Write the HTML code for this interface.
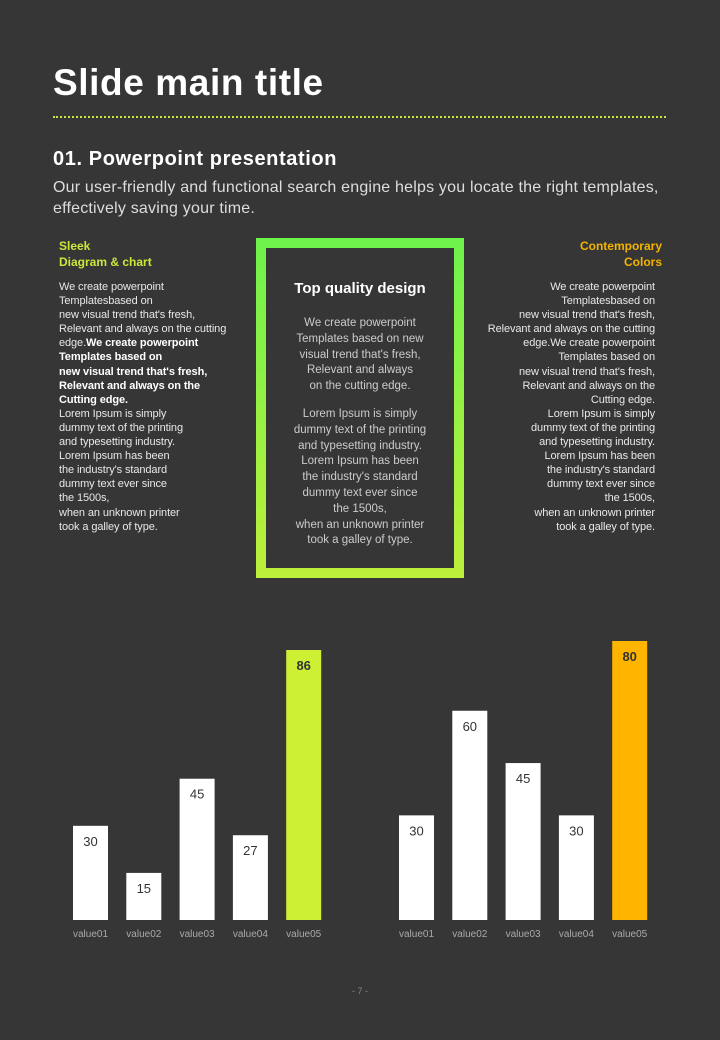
<!DOCTYPE html>
<html><head><meta charset="utf-8"><style>
body{margin:0;width:720px;height:1040px;background:#363636;font-family:"Liberation Sans",sans-serif;position:relative;overflow:hidden;color:#fff}
.a{position:absolute}
.t{font-size:11px;line-height:14.1px;color:#e8e8e8;letter-spacing:-0.1px}
.t b{color:#fff}
</style></head><body>
<div class="a" style="left:53px;top:62px;font-size:37px;font-weight:bold;letter-spacing:0.6px">Slide main title</div>
<div class="a" style="left:53px;top:116px;width:613px;border-top:2px dotted #c8e63a"></div>
<div class="a" style="left:53px;top:148px;font-size:20px;font-weight:bold;letter-spacing:0.6px">01. Powerpoint presentation</div>
<div class="a" style="left:53px;top:177px;font-size:16px;line-height:21px;color:#ddd;width:640px;letter-spacing:0.2px">Our user-friendly and functional search engine helps you locate the right templates, effectively saving your time.</div>

<div class="a" style="left:59px;top:238px;font-size:12px;line-height:16px;font-weight:bold;color:#cde63a">Sleek<br>Diagram &amp; chart</div>
<div class="a t" style="left:59px;top:280px;width:190px">We create powerpoint<br>Templatesbased on<br>new visual trend that's fresh,<br>Relevant and always on the cutting<br>edge.<b>We create powerpoint<br>Templates based on<br>new visual trend that's fresh,<br>Relevant and always on the<br>Cutting edge.</b><br>Lorem Ipsum is simply<br>dummy text of the printing<br>and typesetting industry.<br>Lorem Ipsum has been<br>the industry's standard<br>dummy text ever since<br>the 1500s,<br>when an unknown printer<br>took a galley of type.</div>

<div class="a" style="left:256px;top:238px;width:208px;height:340px;background:linear-gradient(180deg,#6ef24c,#bdf03a)"><div style="position:absolute;left:10px;top:10px;right:10px;bottom:10px;background:#363636"></div></div>
<div class="a" style="left:256px;top:280px;width:208px;text-align:center;font-size:15px;font-weight:bold">Top quality design</div>
<div class="a" style="left:256px;top:316px;width:208px;text-align:center;font-size:11.5px;line-height:15.8px;color:#ccc">We create powerpoint<br>Templates based on new<br>visual trend that's fresh,<br>Relevant and always<br>on the cutting edge.<br><div style="height:12px"></div>Lorem Ipsum is simply<br>dummy text of the printing<br>and typesetting industry.<br>Lorem Ipsum has been<br>the industry's standard<br>dummy text ever since<br>the 1500s,<br>when an unknown printer<br>took a galley of type.</div>

<div class="a" style="right:58px;top:238px;font-size:12px;line-height:16px;font-weight:bold;color:#f2b400;text-align:right">Contemporary<br>Colors</div>
<div class="a t" style="right:65px;top:280px;width:200px;text-align:right">We create powerpoint<br>Templatesbased on<br>new visual trend that's fresh,<br>Relevant and always on the cutting<br>edge.We create powerpoint<br>Templates based on<br>new visual trend that's fresh,<br>Relevant and always on the<br>Cutting edge.<br>Lorem Ipsum is simply<br>dummy text of the printing<br>and typesetting industry.<br>Lorem Ipsum has been<br>the industry's standard<br>dummy text ever since<br>the 1500s,<br>when an unknown printer<br>took a galley of type.</div>

<svg class="a" style="left:0;top:0" width="720" height="1040" id="charts"></svg>
<div class="a" style="left:0;width:720px;top:986px;text-align:center;font-size:9px;color:#888">- 7 -</div>

<script>
const categories=["value01","value02","value03","value04","value05"];
const leftValues=[30,15,45,27,86];
const rightValues=[30,60,45,30,80];
const svg=document.getElementById('charts');
const NS='http://www.w3.org/2000/svg';
function draw(vals,x0,pxPer,accent,name){
  const base=920,step=53.3,w=35;
  vals.forEach((v,i)=>{
    const x=x0+i*step,h=v*pxPer,last=i===vals.length-1;
    const r=document.createElementNS(NS,'rect');
    r.setAttribute('x',x);r.setAttribute('y',base-h);r.setAttribute('width',w);r.setAttribute('height',h);
    r.setAttribute('fill',last?accent:'#fff');
    
    
    svg.appendChild(r);
    const t=document.createElementNS(NS,'text');
    t.setAttribute('x',x+w/2);t.setAttribute('y',base-h+20);t.setAttribute('text-anchor','middle');
    t.setAttribute('font-size','13');t.setAttribute('fill','#333');t.setAttribute('font-family','Liberation Sans, sans-serif');
    if(last)t.setAttribute('font-weight','bold');
    t.textContent=v;
    
    
    svg.appendChild(t);
    const c=document.createElementNS(NS,'text');
    c.setAttribute('x',x+w/2);c.setAttribute('y',937);c.setAttribute('text-anchor','middle');
    c.setAttribute('font-size','10');c.setAttribute('fill','#aaa');c.setAttribute('font-family','Liberation Sans, sans-serif');
    c.textContent=categories[i];
    
    
    svg.appendChild(c);
  });
}
draw(leftValues,73,270/86,'#cdf035','left-chart');
draw(rightValues,399,279/80,'#ffb400','right-chart');
</script>
</body></html>
